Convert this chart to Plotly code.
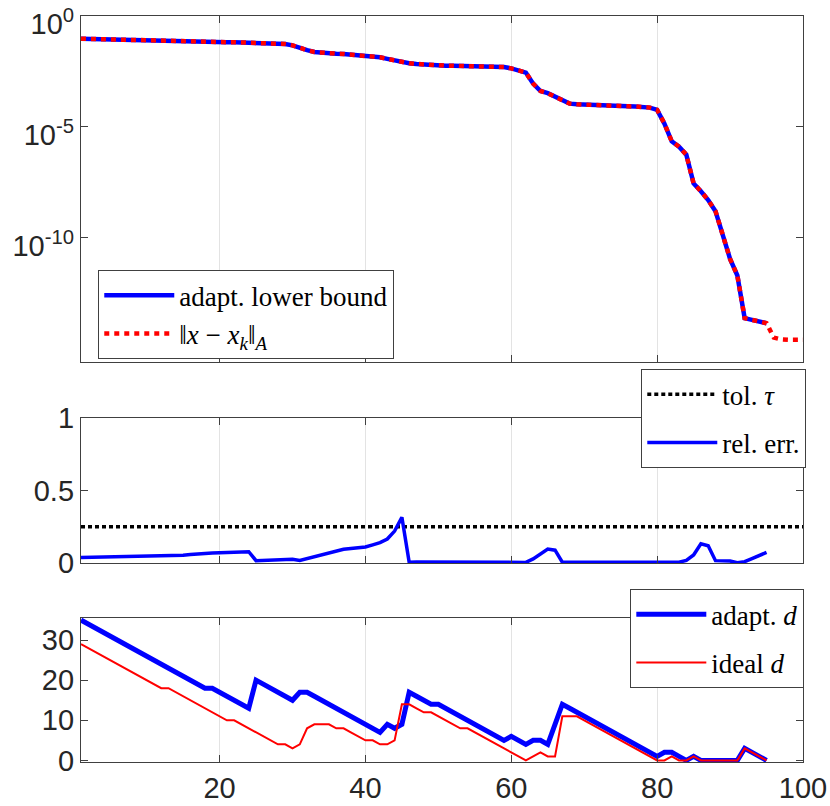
import plotly.graph_objects as go

# iteration counter
k_err = list(range(1, 101))
k_run = list(range(1, 96))

# log10 of the A-norm error
err_log = [
    -1.02, -1.03, -1.03, -1.04, -1.05, -1.05, -1.06, -1.07, -1.08, -1.08,
    -1.09, -1.10, -1.11, -1.11, -1.12, -1.13, -1.14, -1.15, -1.16, -1.17,
    -1.18, -1.18, -1.19, -1.20, -1.20, -1.21, -1.22, -1.23, -1.26, -1.32,
    -1.44, -1.54, -1.62, -1.66, -1.69, -1.70, -1.71, -1.73, -1.76, -1.79,
    -1.82, -1.86, -1.93, -2.01, -2.09, -2.13, -2.16, -2.19, -2.21, -2.23,
    -2.24, -2.24, -2.25, -2.25, -2.25, -2.25, -2.26, -2.27, -2.30, -2.36,
    -2.45, -2.55, -3.05, -3.38, -3.48, -3.63, -3.82, -3.95, -3.98, -4.00,
    -4.01, -4.02, -4.03, -4.05, -4.06, -4.07, -4.08, -4.10, -4.13, -4.23,
    -4.85, -5.65, -5.89, -6.25, -7.55, -7.90, -8.30, -8.80, -9.80, -10.95,
    -11.70, -13.62, -13.70, -13.75, -13.85, -14.50, -14.58, -14.60, -14.60, -14.60,
]
err_a = [10 ** v for v in err_log]
lower_bound = err_a[:95]

tol = [0.25] * 100

rel_err = [
    0.037, 0.038, 0.039, 0.040, 0.041, 0.042, 0.043, 0.044, 0.045, 0.046,
    0.047, 0.048, 0.049, 0.051, 0.054, 0.058, 0.063, 0.067, 0.069, 0.070,
    0.072, 0.074, 0.076, 0.078, 0.016, 0.017, 0.019, 0.021, 0.024, 0.025,
    0.018, 0.030, 0.045, 0.060, 0.072, 0.084, 0.094, 0.100, 0.104, 0.110,
    0.125, 0.140, 0.165, 0.220, 0.315, 0.005, 0.006, 0.006, 0.006, 0.005,
    0.005, 0.005, 0.005, 0.005, 0.005, 0.005, 0.005, 0.005, 0.005, 0.005,
    0.005, 0.004, 0.028, 0.065, 0.096, 0.088, 0.005, 0.005, 0.005, 0.005,
    0.005, 0.005, 0.005, 0.005, 0.005, 0.005, 0.005, 0.005, 0.005, 0.005,
    0.005, 0.005, 0.005, 0.018, 0.055, 0.133, 0.119, 0.016, 0.015, 0.013,
    0.002, 0.009, 0.030, 0.052, 0.073,
]

adapt_d = [
    35, 34, 33, 32, 31, 30, 29, 28, 27, 26,
    25, 24, 23, 22, 21, 20, 19, 18, 18, 17,
    16, 15, 14, 13, 20, 19, 18, 17, 16, 15,
    17, 17, 16, 15, 14, 13, 12, 11, 10, 9,
    8, 7, 9, 8, 9, 17, 16, 15, 14, 14,
    13, 12, 11, 10, 9, 8, 7, 6, 5, 6,
    5, 4, 5, 5, 4, 9, 14, 13, 12, 11,
    10, 9, 8, 7, 6, 5, 4, 3, 2, 1,
    2, 2, 1, 0, 1, 0, 0, 0, 0, 0,
    0, 3, 2, 1, 0,
]

ideal_d = [
    29, 28, 27, 26, 25, 24, 23, 22, 21, 20,
    19, 18, 18, 17, 16, 15, 14, 13, 12, 11,
    10, 10, 9, 8, 7, 6, 5, 4, 4, 3,
    4, 8, 9, 9, 9, 8, 8, 7, 6, 5,
    5, 4, 4, 5, 14, 14, 13, 12, 12, 11,
    10, 9, 8, 8, 7, 6, 5, 4, 3, 2,
    1, 0, 1, 2, 1, 1, 11, 11, 11, 10,
    9, 8, 7, 6, 5, 4, 3, 2, 1, 0,
    0, 1, 0, 0, 1, 0, 0, 0, 0, 0,
    0, 3, 2, 1, 0,
]

x_ticks = [20, 40, 60, 80, 100]
log_ticks = [1, 1e-5, 1e-10]
log_labels = ["10<sup>0</sup>", "10<sup>-5</sup>", "10<sup>-10</sup>"]

BLUE = "#0000ff"
RED = "#ff0000"
AX = "#404040"
TICK_FONT = dict(family="Liberation Sans, Arial", size=29, color="#262626")
LEG_FONT = dict(family="Liberation Serif, Times New Roman", size=27, color="#000000")

fig = go.Figure()

# top panel
fig.add_trace(go.Scatter(x=k_run, y=lower_bound, mode="lines", name="adapt. lower bound",
                         line=dict(color=BLUE, width=4.5), xaxis="x", yaxis="y", legend="legend"))
fig.add_trace(go.Scatter(x=k_err, y=err_a, mode="lines",
                         name="‖<i>x</i> − <i>x</i><sub><i>k</i></sub>‖<sub><i>A</i></sub>",
                         line=dict(color=RED, width=4.5, dash="5px,5px"),
                         xaxis="x", yaxis="y", legend="legend"))

# middle panel
fig.add_trace(go.Scatter(x=k_err, y=tol, mode="lines", name="tol. <i>τ</i>", legendgroup="t",
                         line=dict(color="#000000", width=3.5, dash="4px,3px"),
                         xaxis="x2", yaxis="y2", legend="legend2"))
fig.add_trace(go.Scatter(x=k_run, y=rel_err, mode="lines", name="rel. err.", legendgroup="r",
                         line=dict(color=BLUE, width=3.5), xaxis="x2", yaxis="y2", legend="legend2"))

# bottom panel
fig.add_trace(go.Scatter(x=k_run, y=adapt_d, mode="lines", name="adapt. <i>d</i>", legendgroup="a",
                         line=dict(color=BLUE, width=5), xaxis="x3", yaxis="y3", legend="legend3"))
fig.add_trace(go.Scatter(x=k_run, y=ideal_d, mode="lines", name="ideal <i>d</i>", legendgroup="i",
                         line=dict(color=RED, width=2), xaxis="x3", yaxis="y3", legend="legend3"))

xcommon = dict(range=[1, 100], tickvals=x_ticks, showgrid=True, gridcolor="#e3e3e3", gridwidth=1,
               showline=True, linecolor=AX, linewidth=1.3, mirror="ticks", ticks="inside",
               ticklen=7, tickcolor=AX, tickfont=TICK_FONT, zeroline=False, automargin=False,
               ticklabeloverflow="allow")
ycommon = dict(showgrid=False, showline=True, linecolor=AX, linewidth=1.3, mirror="ticks",
               ticks="inside", ticklen=7, tickcolor=AX, tickfont=TICK_FONT, zeroline=False,
               automargin=False, ticklabeloverflow="allow")

legcommon = dict(bgcolor="#ffffff", bordercolor=AX, borderwidth=1.3, font=LEG_FONT,
                 xref="paper", yref="paper", xanchor="left", yanchor="top", itemwidth=70)

fig.update_layout(
    width=830, height=806,
    margin=dict(l=81, r=27, t=16, b=44),
    plot_bgcolor="#ffffff", paper_bgcolor="#ffffff",
    xaxis=dict(xcommon, domain=[0, 1], anchor="y", showticklabels=False),
    yaxis=dict(ycommon, type="log", range=[-15.6, 0.002], tickvals=log_ticks, ticktext=log_labels,
               domain=[0.5362, 1], anchor="x", ticklabelshift=8),
    xaxis2=dict(xcommon, domain=[0, 1], anchor="y2", showticklabels=False),
    yaxis2=dict(ycommon, range=[0, 1], tickvals=[0, 0.5, 1], ticktext=["0", "0.5", "1"],
                domain=[0.2668, 0.4611], anchor="x2"),
    xaxis3=dict(xcommon, domain=[0, 1], anchor="y3"),
    yaxis3=dict(ycommon, range=[-0.4, 35.5], tickvals=[0, 10, 20, 30],
                domain=[0, 0.193], anchor="x3"),
    legend=dict(legcommon, x=0.0235, y=0.6595),
    legend2=dict(legcommon, x=0.7756, y=0.5268, traceorder="grouped", tracegroupgap=10),
    legend3=dict(legcommon, x=0.7604, y=0.2319, traceorder="grouped", tracegroupgap=10),
    showlegend=True,
)

# drop the default page margin so the figure sits at the window's corner
fig.write_html("out.html", config={"displayModeBar": False},
               post_script="document.body.style.margin = '0px';")
